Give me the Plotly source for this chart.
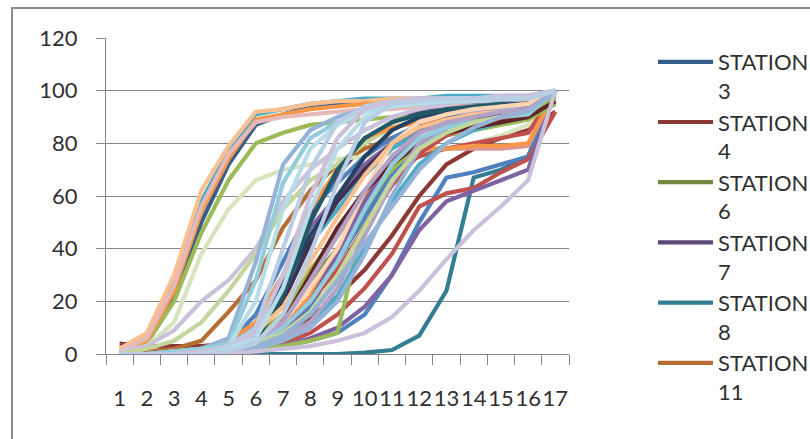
import plotly.graph_objects as go

# Category labels along the x axis
categories = [str(i) for i in range(1, 18)]

# Excel 2007-style series palette
palette = {
    "b": "#4F81BD", "r": "#C0504D", "g": "#9BBB59", "p": "#8064A2", "a": "#4BACC6", "o": "#F79646",
    "b2": "#385D8A", "r2": "#8C3836", "g2": "#71893F", "p2": "#5C4776", "a2": "#357D92", "o2": "#B66D31",
    "b3": "#95B3D7", "r3": "#D99694", "g3": "#C3D69B", "p3": "#B3A2C7", "a3": "#93CDDD", "o3": "#FAC090",
    "b4": "#254061", "r4": "#632523", "g4": "#4F6228", "p4": "#3F3151", "a4": "#215968", "o4": "#974806",
    "b5": "#B9CDE5", "r5": "#E6B9B8", "g5": "#D7E4BD", "p5": "#CCC1DA", "a5": "#B7DEE8", "o5": "#FCD5B5",
}

# Cumulative percentage per station (17 readings each)
station_3 = [1, 5, 22, 50, 72, 87, 91, 94, 95, 96, 96, 97, 97, 97, 97, 97, 100]
station_4 = [4, 3, 3, 3, 4, 5, 8, 14, 22, 32, 45, 60, 72, 78, 82, 85, 92]
station_6 = [0, 0, 1, 1, 2, 6, 14, 28, 40, 55, 68, 78, 84, 87, 89, 90, 95]
station_7 = [0, 0, 1, 1, 3, 10, 28, 52, 68, 80, 88, 92, 94, 95, 96, 96, 100]
station_8 = [0, 0, 0, 0, 0, 0, 0, 0, 0, 0.5, 1.5, 7, 24, 67, 70, 75, 100]
station_11 = [1, 1, 2, 5, 16, 28, 48, 62, 72, 78, 82, 85, 88, 90, 91, 92, 98]

other_stations = [
    ("a", [1, 6, 27, 58, 77, 91, 93, 95, 96, 97, 97, 97, 98, 98, 98, 98, 100]),
    ("o3", [2, 8, 30, 62, 79, 92, 93, 95, 96, 96, 97, 97, 97, 97, 97, 98, 100]),
    ("g", [1, 4, 20, 46, 66, 80, 84, 87, 88, 89, 90, 90, 90, 91, 91, 92, 96]),
    ("o", [1, 5, 24, 54, 74, 89, 91, 93, 94, 95, 95, 95, 96, 96, 96, 96, 99]),
    ("r5", [1, 6, 26, 56, 76, 88, 90, 91, 92, 93, 93, 94, 94, 94, 95, 95, 100]),
    ("g5", [1, 3, 12, 38, 55, 66, 70, 72, 74, 75, 76, 77, 78, 80, 83, 87, 100]),
    ("p5", [1, 3, 9, 20, 28, 40, 58, 70, 78, 85, 90, 93, 95, 96, 96, 97, 100]),
    ("g3", [0, 2, 5, 12, 24, 38, 55, 66, 72, 80, 86, 89, 90, 91, 92, 93, 100]),
    ("b", [0, 0, 1, 2, 4, 15, 35, 55, 65, 75, 82, 87, 90, 92, 93, 94, 100]),
    ("p", [0, 0, 1, 2, 3, 12, 30, 48, 60, 72, 80, 85, 88, 90, 92, 93, 100]),
    ("o", [0, 0, 1, 2, 5, 12, 30, 55, 70, 82, 86, 88, 89, 90, 91, 92, 100]),
    ("a", [0, 0, 1, 2, 3, 10, 25, 42, 55, 68, 78, 84, 88, 90, 92, 93, 100]),
    ("r", [0, 0, 1, 1, 2, 6, 15, 30, 45, 60, 70, 75, 78, 80, 82, 84, 100]),
    ("b", [0, 0, 0, 0, 1, 2, 3, 5, 8, 15, 30, 50, 67, 69, 72, 75, 100]),
    ("r", [0, 0, 0, 1, 1, 2, 4, 8, 15, 25, 38, 56, 61, 63, 69, 74, 92]),
    ("p", [0, 0, 0, 0, 1, 2, 3, 6, 10, 18, 30, 47, 58, 62, 66, 70, 100]),
    ("r3", [0, 0, 0, 1, 2, 4, 8, 15, 28, 50, 70, 78, 78, 78, 78, 79, 100]),
    ("o", [0, 0, 0, 1, 2, 4, 10, 22, 40, 60, 74, 78, 78, 79, 79, 80, 100]),
    ("g", [0, 0, 0, 0, 1, 2, 3, 5, 8, 52, 72, 80, 83, 85, 87, 89, 95]),
    ("b", [0, 0, 0, 1, 2, 4, 8, 18, 35, 52, 68, 80, 86, 89, 91, 92, 100]),
    ("a", [0, 0, 0, 0, 1, 3, 6, 12, 22, 40, 58, 72, 80, 85, 88, 90, 100]),
    ("r", [0, 0, 0, 1, 2, 5, 10, 20, 32, 48, 64, 76, 83, 87, 89, 90, 97]),
    ("g", [0, 0, 1, 2, 3, 7, 15, 32, 45, 58, 70, 80, 86, 89, 91, 92, 97]),
    ("p", [0, 0, 0, 0, 1, 3, 8, 20, 38, 58, 74, 84, 88, 90, 91, 92, 100]),
    ("b4", [0, 0, 0, 1, 2, 8, 25, 45, 60, 75, 85, 90, 92, 93, 94, 95, 100]),
    ("p4", [0, 0, 0, 1, 2, 6, 20, 42, 58, 70, 80, 86, 89, 91, 92, 93, 100]),
    ("r4", [0, 0, 0, 1, 1, 4, 12, 30, 48, 62, 72, 80, 84, 86, 88, 90, 96]),
    ("a4", [0, 0, 0, 1, 2, 6, 22, 50, 70, 82, 88, 91, 93, 94, 95, 95, 100]),
    ("p3", [0, 0, 0, 1, 1, 3, 6, 12, 25, 45, 65, 80, 88, 92, 94, 95, 100]),
    ("b3", [0, 0, 0, 0, 1, 2, 5, 10, 20, 38, 60, 78, 86, 90, 93, 95, 100]),
    ("a3", [0, 0, 1, 1, 2, 4, 10, 20, 35, 55, 72, 82, 86, 88, 90, 91, 100]),
    ("o5", [0, 0, 1, 1, 2, 5, 12, 25, 40, 62, 80, 88, 91, 93, 94, 95, 100]),
    ("g3", [0, 0, 0, 1, 2, 4, 8, 16, 30, 48, 66, 78, 84, 88, 90, 92, 100]),
    ("o3", [0, 0, 0, 1, 3, 8, 18, 35, 52, 68, 80, 86, 89, 91, 92, 93, 100]),
    ("p3", [0, 0, 0, 1, 2, 5, 12, 28, 45, 62, 75, 84, 88, 90, 92, 93, 100]),
    ("b3", [0, 0, 0, 0, 1, 3, 7, 15, 28, 42, 56, 70, 80, 86, 90, 92, 100]),
    ("b3", [0, 0, 1, 2, 6, 35, 72, 85, 90, 93, 95, 96, 97, 97, 97, 98, 100]),
    ("a3", [0, 0, 1, 2, 4, 28, 65, 82, 88, 92, 94, 95, 96, 96, 97, 97, 100]),
    ("a5", [0, 0, 0, 1, 3, 20, 55, 78, 87, 92, 95, 96, 97, 97, 98, 98, 100]),
    ("p5", [0, 0, 0, 0, 0, 1, 2, 3, 5, 8, 14, 24, 36, 47, 56, 66, 100]),
    ("b5", [0, 0, 0, 1, 3, 10, 40, 70, 88, 94, 96, 97, 97, 97, 97, 98, 100]),
    ("p5", [0, 0, 0, 1, 2, 8, 30, 60, 82, 93, 96, 97, 97, 97, 98, 98, 100]),
    ("a5", [0, 0, 0, 0, 2, 6, 25, 55, 78, 90, 94, 95, 96, 96, 97, 97, 100]),
    ("b5", [0, 0, 0, 0, 1, 4, 15, 38, 65, 88, 95, 96, 97, 97, 97, 97, 100]),
]

named_stations = [
    ("STATION<br>3", "b2", station_3),
    ("STATION<br>4", "r2", station_4),
    ("STATION<br>6", "g2", station_6),
    ("STATION<br>7", "p2", station_7),
    ("STATION<br>8", "a2", station_8),
    ("STATION<br>11", "o2", station_11),
]

FONT = "Lato"
TEXT = "#303030"
GRID = "#868686"
LINE_W = 4.2

fig = go.Figure()
for name, ckey, vals in named_stations:
    fig.add_trace(go.Scatter(
        x=categories, y=vals, mode="lines", name=name,
        line=dict(color=palette[ckey], width=LINE_W), showlegend=True,
    ))
for i, (ckey, vals) in enumerate(other_stations):
    fig.add_trace(go.Scatter(
        x=categories, y=vals, mode="lines", name=f"STATION<br>{12 + i}",
        line=dict(color=palette[ckey], width=LINE_W), showlegend=False,
    ))

# plot area in pixels: x 106..569, y 38..354
L, R, T, B = 106, 569, 38, 354
W, H = 810, 439
pw, ph = R - L, B - T

def px_x(p):
    return (p - L) / pw

def px_y(p):
    return (B - p) / ph

# outer chart frame
fig.add_shape(type="rect", xref="paper", yref="paper",
              x0=px_x(12), x1=px_x(830), y0=px_y(460), y1=px_y(8),
              line=dict(color="#8a8a8a", width=2), fillcolor="rgba(0,0,0,0)", layer="below")

fig.update_layout(
    width=W, height=H,
    margin=dict(l=L, r=W - R, t=T, b=H - B, autoexpand=False),
    paper_bgcolor="white", plot_bgcolor="white",
    font=dict(family=FONT, size=22, color=TEXT),
    showlegend=True,
    legend=dict(
        x=px_x(653), y=px_y(41), xanchor="left", yanchor="top",
        font=dict(family=FONT, size=22, color=TEXT),
        bgcolor="rgba(0,0,0,0)", valign="top", itemwidth=55,
        tracegroupgap=0, maxheight=430,
    ),
    xaxis=dict(
        type="category", tickmode="array", tickvals=categories, ticktext=categories,
        tickangle=0, showgrid=False, showline=True, linecolor=GRID, linewidth=1,
        ticks="outside", tickson="boundaries", ticklen=10, tickcolor=GRID, tickwidth=1,
        tickfont=dict(family=FONT, size=22, color=TEXT), ticklabelstandoff=25,
        zeroline=False, range=[-0.5, 16.5],
    ),
    yaxis=dict(
        range=[0, 120], tickmode="linear", tick0=0, dtick=20,
        showgrid=True, gridcolor=GRID, gridwidth=1,
        showline=True, linecolor=GRID, linewidth=1,
        ticks="outside", ticklen=9, tickcolor=GRID, tickwidth=1,
        tickfont=dict(family=FONT, size=22, color=TEXT), ticklabelstandoff=14,
        zeroline=False,
    ),
)

fig.write_html("out.html")
